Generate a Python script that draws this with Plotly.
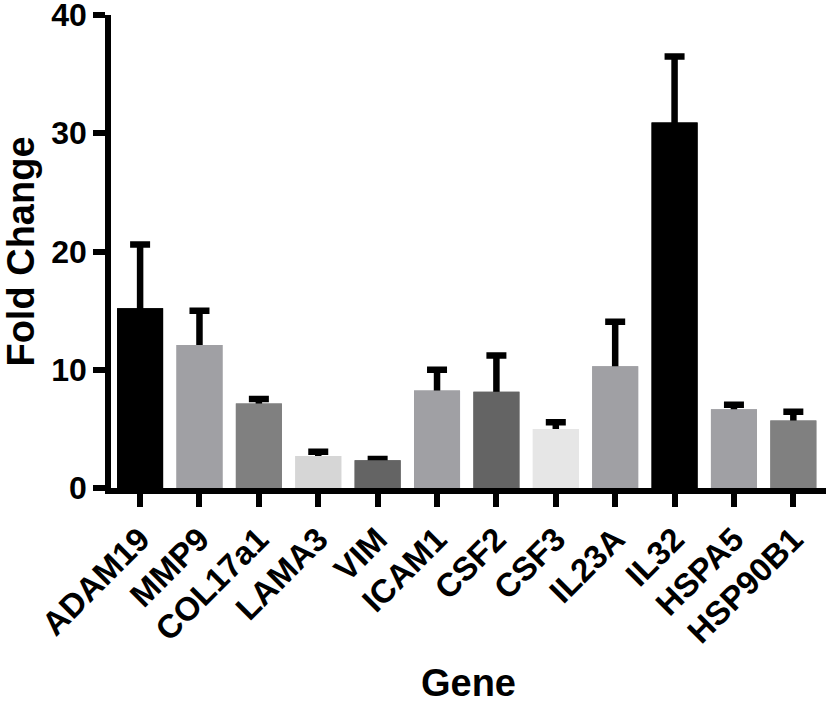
import plotly.graph_objects as go

genes = ["ADAM19", "MMP9", "COL17a1", "LAMA3", "VIM", "ICAM1", "CSF2",
         "CSF3", "IL23A", "IL32", "HSPA5", "HSP90B1"]
fold_change = [15.2, 12.1, 7.15, 2.7, 2.35, 8.25, 8.15, 5.0, 10.3, 30.9, 6.65, 5.7]
error_up = [5.4, 2.9, 0.38, 0.36, 0.1, 1.75, 3.05, 0.55, 3.75, 5.6, 0.38, 0.75]
bar_colors = ["#000000", "#a0a0a4", "#808080", "#d6d6d6", "#646464", "#a0a0a4",
              "#646464", "#e6e6e6", "#a0a0a4", "#000000", "#a0a0a4", "#808080"]

FONT = "Liberation Sans, Arial, sans-serif"

fig = go.Figure()
# bars carrying the (upper) error bars
fig.add_trace(go.Bar(
    x=genes, y=fold_change, width=0.775,
    marker=dict(color=bar_colors, line=dict(width=0)),
    error_y=dict(type="data", symmetric=False, array=error_up,
                 arrayminus=fold_change, color="#000000",
                 thickness=6.5, width=10),
    showlegend=False, hoverinfo="skip",
))
# same bars drawn on top so only the upward part of each error bar shows
fig.add_trace(go.Bar(
    x=genes, y=fold_change, width=0.775,
    marker=dict(color=bar_colors, line=dict(width=0)),
    showlegend=False,
))

fig.update_layout(
    width=827, height=704,
    margin=dict(l=111, r=1, t=15, b=216),
    barmode="overlay",
    plot_bgcolor="white", paper_bgcolor="white",
    font=dict(family=FONT, color="#000000"),
)
fig.update_xaxes(
    type="category", range=[-0.49, 11.55], automargin=False,
    showline=True, linewidth=5.5, linecolor="#000000",
    ticks="outside", ticklen=13, tickwidth=5.5, tickcolor="#000000",
    tickangle=-45, showgrid=False, zeroline=False,
    tickfont=dict(family=FONT, size=33, weight="bold", color="#000000"),
    title=dict(text="Gene", standoff=30,
               font=dict(family=FONT, size=38, weight="bold", color="#000000")),
)
fig.update_yaxes(
    range=[0, 40], tickvals=[0, 10, 20, 30, 40], automargin=False,
    showline=True, linewidth=5.5, linecolor="#000000",
    ticks="outside", ticklen=12, tickwidth=5.5, tickcolor="#000000",
    ticklabeloverflow="allow",
    showgrid=False, zeroline=False,
    tickfont=dict(family=FONT, size=32, weight="bold", color="#000000"),
    title=dict(text="Fold Change", standoff=22,
               font=dict(family=FONT, size=38, weight="bold", color="#000000")),
)

fig.write_html("out.html", config={"displayModeBar": False},
               post_script="document.body.style.margin='0';document.body.style.overflow='hidden';")
